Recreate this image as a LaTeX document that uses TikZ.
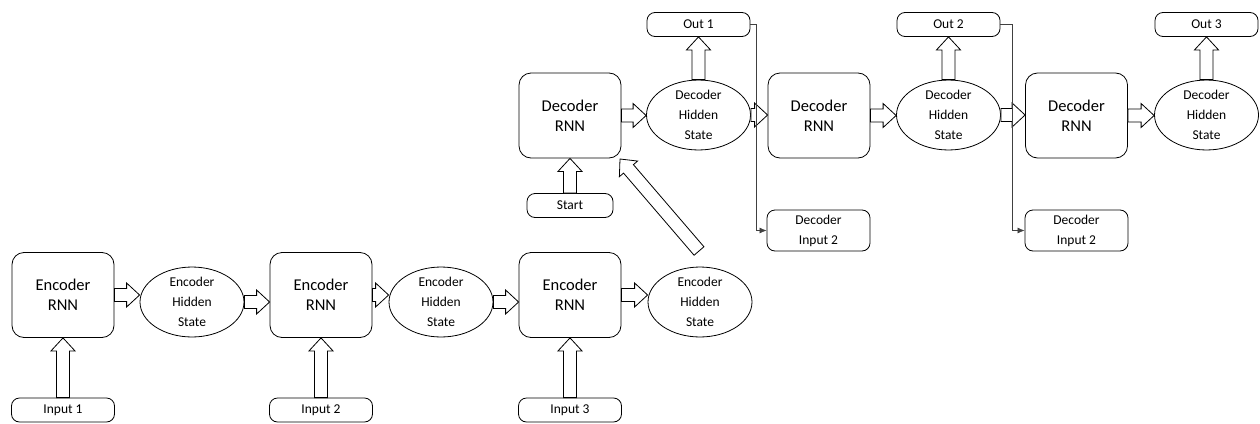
\documentclass[tikz,border=0pt]{standalone}
\usepackage{fontspec}
\setmainfont{Carlito}
\usetikzlibrary{shapes.geometric,calc,arrows.meta}

% hollow block arrow from #1 to #2 (tip at #2)
\newcommand\blockarrow[2]{%
  \draw[blockline]
    ($(#1)!6.5pt!90:(#2)$) --
    ($(#2)!13pt!(#1)!6.5pt!90:(#2)$) --
    ($(#2)!13pt!(#1)!12pt!90:(#2)$) --
    (#2) --
    ($(#2)!13pt!(#1)!12pt!-90:(#2)$) --
    ($(#2)!13pt!(#1)!6.5pt!-90:(#2)$) --
    ($(#1)!6.5pt!-90:(#2)$) -- cycle;}

\tikzset{
  rnn/.style={draw, line width=0.8pt, rounded corners=12pt, minimum width=102pt,
    minimum height=85pt, align=center, inner sep=0pt,
    font=\fontsize{16.5}{20}\selectfont},
  hid/.style={draw, line width=0.8pt, ellipse, minimum width=104pt, minimum height=61pt,
    align=center, inner sep=0pt, font=\fontsize{13.5}{20}\selectfont},
  tag/.style={draw, line width=0.8pt, rounded corners=8pt, minimum width=103pt,
    minimum height=24pt, inner sep=0pt, font=\fontsize{13.5}{16}\selectfont},
  deci/.style={tag, minimum height=41pt, align=center,
    font=\fontsize{13.5}{20}\selectfont},
  blockline/.style={line width=0.8pt, line join=miter, fill=white},
  wire/.style={line width=0.7pt, black!75, -{Latex[length=7pt,width=6pt]}}
}

\begin{document}
\begin{tikzpicture}[x=1pt, y=-1pt]
\useasboundingbox (0,0) rectangle (1260,423);

% encoder chain
\node[rnn] (enc1) at (63,295) {Encoder\\RNN};
\node[hid] (eh1) at (192,302) {Encoder\\Hidden\\State};
\node[rnn] (enc2) at (321,295) {Encoder\\RNN};
\node[hid] (eh2) at (441,302) {Encoder\\Hidden\\State};
\node[rnn] (enc3) at (570,295) {Encoder\\RNN};
\node[hid] (eh3) at (700,302) {Encoder\\Hidden\\State};

\node[tag] (in1) at (63,410) {Input 1};
\node[tag] (in2) at (321,410) {Input 2};
\node[tag] (in3) at (570,410) {Input 3};

% decoder chain
\node[rnn] (dec1) at (570,115.5) {Decoder\\RNN};
\node[hid, minimum height=66pt] (dh1) at (698.5,115) {Decoder\\Hidden\\State};
\node[rnn] (dec2) at (819,115.5) {Decoder\\RNN};
\node[hid, minimum height=66pt] (dh2) at (948.5,115) {Decoder\\Hidden\\State};
\node[rnn] (dec3) at (1076.5,115.5) {Decoder\\RNN};
\node[hid, minimum height=66pt] (dh3) at (1206.5,115) {Decoder\\Hidden\\State};

\node[tag] (out1) at (698.5,24.5) {Out 1};
\node[tag] (out2) at (948.5,24.5) {Out 2};
\node[tag] (out3) at (1206.5,24.5) {Out 3};

\node[tag, minimum width=86pt] (start) at (570,205.5) {Start};
\node[deci] (din1) at (818.5,230.5) {Decoder\\Input 2};
\node[deci] (din2) at (1076.5,230.5) {Decoder\\Input 2};

% encoder arrows
\blockarrow{in1.north}{enc1.south}
\blockarrow{in2.north}{enc2.south}
\blockarrow{in3.north}{enc3.south}
\blockarrow{enc1.east}{enc1.east -| eh1.west}
\blockarrow{eh1.east}{eh1.east -| enc2.west}
\blockarrow{enc2.east}{enc2.east -| eh2.west}
\blockarrow{eh2.east}{eh2.east -| enc3.west}
\blockarrow{enc3.east}{enc3.east -| eh3.west}

% context handed to the decoder
\coordinate (ctxtail) at (699,251);
\coordinate (ctxtip) at (620,159);
\blockarrow{ctxtail}{ctxtip}

% decoder arrows
\blockarrow{start.north}{dec1.south}
\blockarrow{dec1.east}{dec1.east -| dh1.west}
\blockarrow{dh1.east}{dh1.east -| dec2.west}
\blockarrow{dec2.east}{dec2.east -| dh2.west}
\blockarrow{dh2.east}{dh2.east -| dec3.west}
\blockarrow{dec3.east}{dec3.east -| dh3.west}
\blockarrow{dh1.north}{out1.south}
\blockarrow{dh2.north}{out2.south}
\blockarrow{dh3.north}{out3.south}

% outputs fed back as next inputs
\draw[wire] (out1.east) -- ++(6,0) |- (din1.west);
\draw[wire] (out2.east) -- ++(12,0) |- (din2.west);
\end{tikzpicture}
\end{document}
